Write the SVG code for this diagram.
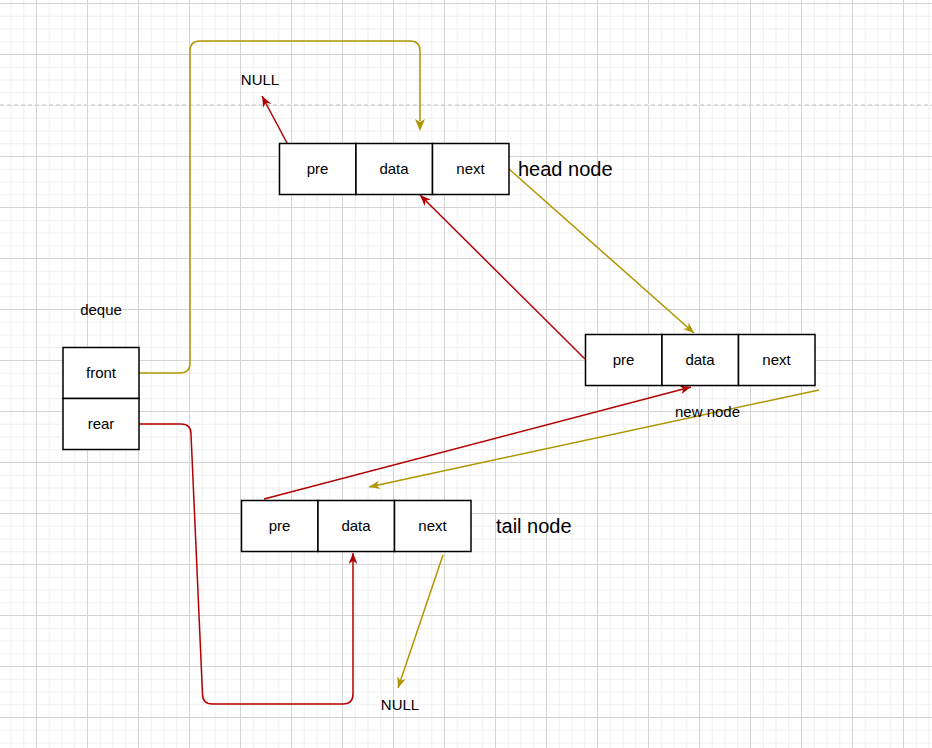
<svg xmlns="http://www.w3.org/2000/svg" width="932" height="748" viewBox="0 0 932 748">
<defs>
<pattern id="grid" patternUnits="userSpaceOnUse" x="36" y="3" width="51" height="51">
<rect x="0" y="0" width="51" height="51" fill="#ffffff"/>
<g fill="#f0f0f0">
<rect x="12.75" y="0" width="1" height="51"/>
<rect x="25.5" y="0" width="1" height="51"/>
<rect x="38.25" y="0" width="1" height="51"/>
<rect x="0" y="12.75" width="51" height="1"/>
<rect x="0" y="25.5" width="51" height="1"/>
<rect x="0" y="38.25" width="51" height="1"/>
</g>
<g fill="#d4d4d4">
<rect x="0" y="0" width="1" height="51"/>
<rect x="0" y="0" width="51" height="1"/>
</g>
</pattern>
<marker id="arrGold" viewBox="0 0 10 8" refX="10" refY="4" markerWidth="11" markerHeight="9" markerUnits="userSpaceOnUse" orient="auto">
<path d="M0,0 L10,4 L0,8 L3,4 Z" fill="#B09500"/>
</marker>
<marker id="arrRed" viewBox="0 0 10 8" refX="10" refY="4" markerWidth="11" markerHeight="9" markerUnits="userSpaceOnUse" orient="auto">
<path d="M0,0 L10,4 L0,8 L3,4 Z" fill="#B20000"/>
</marker>
</defs>
<style>
.cell{fill:#ffffff;stroke:#000000;stroke-width:1.5}
.lbl{font-family:"Liberation Sans",Arial,sans-serif;font-size:15px;fill:#000000;text-anchor:middle}
.big{font-family:"Liberation Sans",Arial,sans-serif;font-size:20px;fill:#000000}
.gold{fill:none;stroke:#B09500;stroke-width:1.5;marker-end:url(#arrGold)}
.red{fill:none;stroke:#B20000;stroke-width:1.5;marker-end:url(#arrRed)}
.goldn{fill:none;stroke:#B09500;stroke-width:1.5}
.redn{fill:none;stroke:#B20000;stroke-width:1.5}
</style>
<rect x="0" y="0" width="932" height="748" fill="url(#grid)"/>
<line x1="0" y1="105" x2="932" y2="105" stroke="#ffffff" stroke-width="1"/>
<line x1="0" y1="105" x2="932" y2="105" stroke="#c4c4c4" stroke-width="1.2" stroke-dasharray="4 3"/>

<g id="connectors">
<path class="goldn" d="M139,373 H180 Q190,373 190,363 V51 Q190,41 200,41 H410 Q420,41 420,51 V121"/>
<path d="M420,131 L415,119 L420,122 L425,119 Z" fill="#B09500"/>
<path class="red" d="M139,424 H181 Q191,424 191,434 L202.5,694 Q202.5,704 212.5,704 H343 Q353,704 353,694 V553"/>
<path class="red" d="M287,143 L262,96"/>
<path class="gold" d="M509,169 L694,333"/>
<path class="red" d="M585,359 L420,195"/>
<path class="red" d="M264,499 L691,387"/>
<path class="gold" d="M819,390 L369,487"/>
<path class="gold" d="M443,555 L398,688"/>
</g>

<g id="head-node">
<rect class="cell" x="279.5" y="143.5" width="76.5" height="51"/>
<rect class="cell" x="356" y="143.5" width="76.5" height="51"/>
<rect class="cell" x="432.5" y="143.5" width="76.5" height="51"/>
<text class="lbl" x="317.5" y="174">pre</text>
<text class="lbl" x="394" y="174">data</text>
<text class="lbl" x="470.5" y="174">next</text>
</g>
<g id="head-label"><text class="big" x="518" y="176">head node</text></g>

<g id="null-top"><text class="lbl" x="260" y="85">NULL</text></g>

<g id="new-node">
<rect class="cell" x="585.5" y="334.5" width="76.5" height="51"/>
<rect class="cell" x="662" y="334.5" width="76.5" height="51"/>
<rect class="cell" x="738.5" y="334.5" width="76.5" height="51"/>
<text class="lbl" x="623.5" y="365">pre</text>
<text class="lbl" x="700" y="365">data</text>
<text class="lbl" x="776.5" y="365">next</text>
</g>
<g id="new-label"><text class="lbl" x="707.5" y="417">new node</text></g>

<g id="tail-node">
<rect class="cell" x="241.5" y="500.5" width="76.5" height="51"/>
<rect class="cell" x="318" y="500.5" width="76.5" height="51"/>
<rect class="cell" x="394.5" y="500.5" width="76.5" height="51"/>
<text class="lbl" x="279.5" y="531">pre</text>
<text class="lbl" x="356" y="531">data</text>
<text class="lbl" x="432.5" y="531">next</text>
</g>
<g id="tail-label"><text class="big" x="496" y="533">tail node</text></g>

<g id="deque">
<text class="lbl" x="101" y="315">deque</text>
<rect class="cell" x="63" y="347.5" width="76" height="51"/>
<rect class="cell" x="63" y="398.5" width="76" height="51"/>
<text class="lbl" x="101" y="378">front</text>
<text class="lbl" x="101" y="429">rear</text>
</g>

<g id="null-bottom"><text class="lbl" x="400" y="710">NULL</text></g>
</svg>
